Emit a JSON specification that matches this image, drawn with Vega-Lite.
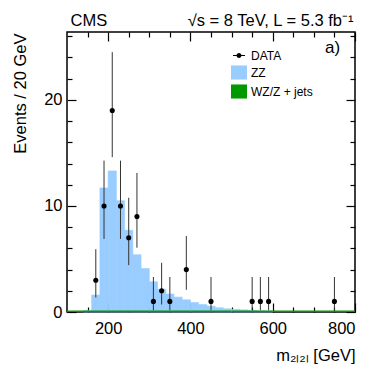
{
  "$schema": "https://vega.github.io/schema/vega-lite/v6.json",
  "width": 288,
  "height": 280,
  "autosize": {"type": "none"},
  "padding": {"left": 67, "top": 32, "right": 19, "bottom": 80},
  "background": "white",
  "config": {
    "font": "Liberation Sans",
    "view": {"stroke": "#000", "strokeWidth": 1.5},
    "axis": {
      "domain": false, "grid": false, "zindex": 1,
      "tickColor": "#000", "tickWidth": 1.2,
      "labelColor": "#000", "labelFontSize": 16.5, "labelFont": "Liberation Sans",
      "titleColor": "#000", "titleFontSize": 16.5, "titleFontWeight": "normal", "titleFont": "Liberation Sans"
    }
  },
  "datasets": {
    "zz": [
      {"lo": 140, "hi": 160, "v": 0.15, "s": "ZZ"},
      {"lo": 160, "hi": 180, "v": 1.6, "s": "ZZ"},
      {"lo": 180, "hi": 200, "v": 11.7, "s": "ZZ"},
      {"lo": 200, "hi": 220, "v": 13.3, "s": "ZZ"},
      {"lo": 220, "hi": 240, "v": 10.5, "s": "ZZ"},
      {"lo": 240, "hi": 260, "v": 7.7, "s": "ZZ"},
      {"lo": 260, "hi": 280, "v": 5.4, "s": "ZZ"},
      {"lo": 280, "hi": 300, "v": 4.1, "s": "ZZ"},
      {"lo": 300, "hi": 320, "v": 2.85, "s": "ZZ"},
      {"lo": 320, "hi": 340, "v": 2.15, "s": "ZZ"},
      {"lo": 340, "hi": 360, "v": 1.7, "s": "ZZ"},
      {"lo": 360, "hi": 380, "v": 1.4, "s": "ZZ"},
      {"lo": 380, "hi": 400, "v": 1.15, "s": "ZZ"},
      {"lo": 400, "hi": 420, "v": 0.9, "s": "ZZ"},
      {"lo": 420, "hi": 440, "v": 0.7, "s": "ZZ"},
      {"lo": 440, "hi": 460, "v": 0.55, "s": "ZZ"},
      {"lo": 460, "hi": 480, "v": 0.4, "s": "ZZ"},
      {"lo": 480, "hi": 500, "v": 0.3, "s": "ZZ"},
      {"lo": 500, "hi": 520, "v": 0.25, "s": "ZZ"},
      {"lo": 520, "hi": 540, "v": 0.2, "s": "ZZ"},
      {"lo": 540, "hi": 560, "v": 0.15, "s": "ZZ"},
      {"lo": 560, "hi": 580, "v": 0.1, "s": "ZZ"},
      {"lo": 580, "hi": 600, "v": 0.08, "s": "ZZ"}
    ],
    "wz": [
      {"lo": 100, "hi": 200, "v": 0.15, "s": "WZ/Z + jets"},
      {"lo": 200, "hi": 300, "v": 0.15, "s": "WZ/Z + jets"},
      {"lo": 300, "hi": 400, "v": 0.15, "s": "WZ/Z + jets"},
      {"lo": 400, "hi": 500, "v": 0.15, "s": "WZ/Z + jets"},
      {"lo": 500, "hi": 600, "v": 0.15, "s": "WZ/Z + jets"},
      {"lo": 600, "hi": 700, "v": 0.15, "s": "WZ/Z + jets"},
      {"lo": 700, "hi": 800, "v": 0.15, "s": "WZ/Z + jets"}
    ],
    "obs": [
      {"m": 170, "n": 3, "lo": 1.37, "hi": 5.92, "s": "DATA"},
      {"m": 190, "n": 10, "lo": 6.89, "hi": 14.27, "s": "DATA"},
      {"m": 210, "n": 19, "lo": 14.6, "hi": 24.5, "s": "DATA"},
      {"m": 230, "n": 10, "lo": 6.89, "hi": 14.27, "s": "DATA"},
      {"m": 250, "n": 7, "lo": 4.42, "hi": 10.77, "s": "DATA"},
      {"m": 270, "n": 9, "lo": 6.06, "hi": 13.11, "s": "DATA"},
      {"m": 310, "n": 1, "lo": 0.17, "hi": 3.3, "s": "DATA"},
      {"m": 330, "n": 2, "lo": 0.71, "hi": 4.64, "s": "DATA"},
      {"m": 350, "n": 1, "lo": 0.17, "hi": 3.3, "s": "DATA"},
      {"m": 390, "n": 4, "lo": 2.09, "hi": 7.16, "s": "DATA"},
      {"m": 450, "n": 1, "lo": 0.17, "hi": 3.3, "s": "DATA"},
      {"m": 550, "n": 1, "lo": 0.17, "hi": 3.3, "s": "DATA"},
      {"m": 570, "n": 1, "lo": 0.17, "hi": 3.3, "s": "DATA"},
      {"m": 590, "n": 1, "lo": 0.17, "hi": 3.3, "s": "DATA"},
      {"m": 750, "n": 1, "lo": 0.17, "hi": 3.3, "s": "DATA"}
    ],
    "note": [{"label": "a)"}]
  },
  "resolve": {"axis": {"x": "independent", "y": "independent"}},
  "layer": [
    {
      "data": {"name": "zz"},
      "mark": {"type": "rect", "strokeWidth": 0.6},
      "encoding": {
        "x": {"field": "lo", "type": "quantitative",
              "scale": {"domain": [100, 800], "nice": false, "zero": false},
              "axis": {"orient": "bottom", "values": [200, 400, 600, 800], "tickSize": -9, "labelPadding": 17,
                       "title": "m₂ₗ₂ₗ [GeV]", "titleAnchor": "end", "titleAlign": "right", "titleX": 288, "titleY": 48, "titleBaseline": "alphabetic"}},
        "x2": {"field": "hi"},
        "y": {"field": "v", "type": "quantitative",
              "scale": {"domain": [0, 26.4], "nice": false},
              "axis": {"orient": "left", "values": [0, 10, 20], "tickSize": -9, "labelPadding": 14,
                       "title": "Events / 20 GeV", "titleAngle": -90, "titleAlign": "right", "titleBaseline": "alphabetic", "titleX": -41.5, "titleY": 1}},
        "y2": {"datum": 0},
        "color": {"field": "s", "type": "nominal",
                  "scale": {"domain": ["DATA", "ZZ", "WZ/Z + jets"], "range": ["#000000", "#99ccff", "#009900"]},
                  "legend": {"title": null, "orient": "none", "legendX": 164, "legendY": 15.5, "padding": 0,
                             "symbolSize": 256, "labelFontSize": 12, "labelColor": "#000", "labelFont": "Liberation Sans",
                             "rowPadding": 3, "labelOffset": 4, "symbolStrokeWidth": 0, "symbolOpacity": 1,
                             "encode": {"symbols": {"update": {
                               "shape": {"signal": "datum.value === 'DATA' ? 'M-0.75,-0.06L0.75,-0.06L0.75,0.06L-0.75,0.06Z M0.31,0A0.31,0.31 0 1,1 -0.31,0A0.31,0.31 0 1,1 0.31,0Z' : 'M-1,-0.88L1,-0.88L1,0.88L-1,0.88Z'"},
                               "fill": {"scale": "color", "field": "value"},
                               "opacity": {"value": 1},
                               "strokeWidth": {"value": 0}}}}}},
        "stroke": {"field": "s", "type": "nominal", "scale": {"domain": ["DATA", "ZZ", "WZ/Z + jets"], "range": ["#000000", "#99ccff", "#009900"]}, "legend": null}
      }
    },
    {
      "data": {"name": "wz"},
      "mark": {"type": "rect"},
      "encoding": {
        "x": {"field": "lo", "type": "quantitative",
              "axis": {"orient": "bottom", "values": [150, 250, 300, 350, 450, 500, 550, 650, 700, 750], "tickSize": -5, "labels": false, "title": null}},
        "x2": {"field": "hi"},
        "y": {"field": "v", "type": "quantitative",
              "axis": {"orient": "left", "values": [2, 4, 6, 8, 12, 14, 16, 18, 22, 24, 26], "tickSize": -5, "labels": false, "title": null}},
        "y2": {"datum": 0},
        "color": {"field": "s", "type": "nominal"}
      }
    },
    {
      "data": {"name": "obs"},
      "mark": {"type": "rule", "color": "#333333", "strokeWidth": 1},
      "encoding": {
        "x": {"field": "m", "type": "quantitative",
              "axis": {"orient": "top", "values": [200, 400, 600, 800], "tickSize": -9, "labels": false,
                       "title": "√s = 8 TeV, L = 5.3 fb⁻¹", "titleAnchor": "end", "titleAlign": "right", "titleX": 286, "titleY": -7, "titleBaseline": "alphabetic"}},
        "y": {"field": "lo", "type": "quantitative",
              "axis": {"orient": "right", "values": [0, 10, 20], "tickSize": -9, "labels": false, "title": null}},
        "y2": {"field": "hi"}
      }
    },
    {
      "data": {"name": "obs"},
      "mark": {"type": "point", "filled": true, "shape": "circle", "size": 26, "opacity": 1},
      "encoding": {
        "x": {"field": "m", "type": "quantitative",
              "axis": {"orient": "top", "values": [150, 250, 300, 350, 450, 500, 550, 650, 700, 750], "tickSize": -5, "labels": false,
                       "title": "CMS", "titleAnchor": "start", "titleAlign": "left", "titleX": 3, "titleY": -7, "titleBaseline": "alphabetic"}},
        "y": {"field": "n", "type": "quantitative",
              "axis": {"orient": "right", "values": [2, 4, 6, 8, 12, 14, 16, 18, 22, 24, 26], "tickSize": -5, "labels": false, "title": null}},
        "color": {"field": "s", "type": "nominal"}
      }
    },
    {
      "data": {"name": "note"},
      "mark": {"type": "text", "align": "right", "baseline": "alphabetic", "fontSize": 17, "font": "Liberation Sans", "color": "#000"},
      "encoding": {
        "x": {"datum": 764, "type": "quantitative", "axis": null},
        "y": {"datum": 24.4, "type": "quantitative", "axis": null},
        "text": {"field": "label"}
      }
    }
  ]
}
